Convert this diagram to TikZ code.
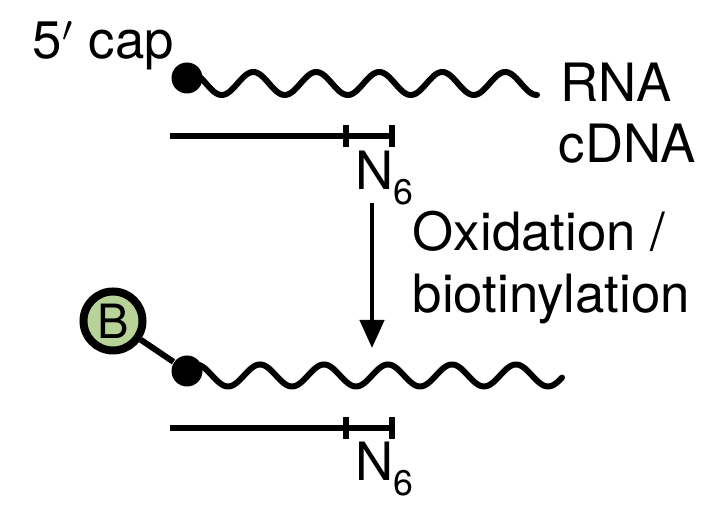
\documentclass[tikz,border=0pt]{standalone}
\usepackage{fontspec}
\setmainfont{TeX Gyre Heros}
\usetikzlibrary{arrows.meta,positioning}
\definecolor{biogreen}{RGB}{184,211,152}

\begin{document}
\begin{tikzpicture}[
    x=0.25pt, y=-0.25pt,
    label/.style={inner sep=0pt, anchor=base west, font=\fontsize{13.2pt}{16pt}\selectfont},
    capdot/.style={circle, fill=black, inner sep=0pt, minimum size=7.75pt},
    biotin/.style={circle, draw=black, line width=2pt, fill=biogreen, inner sep=0pt, minimum size=14.75pt, font=\fontsize{11.8pt}{14pt}\selectfont},
    rna/.style={line width=1.5pt, line cap=round},
    cdna/.style={line width=1.7pt},
    primer/.style={line width=1.5pt},
    link/.style={line width=1.5pt},
    reaction/.style={line width=1.1pt, -{Triangle[width=6pt, length=7pt]}}
]
\useasboundingbox (0,0) rectangle (716,509);

% Top: capped RNA with cDNA
\draw[rna] plot[domain=195:537, samples=200, smooth] (\x, {83.5+11.5*sin((\x-206)/63*360)});
\node[capdot] (cap1) at (187,78) {};
\node[label] (cap) at (32,59) {5$'$ cap};
\node[label] (rna) at (560,102) {RNA};
\node[label] (cdna) at (558,163) {cDNA};

\coordinate (c1a) at (170,136);
\coordinate (c1b) at (392,136);
\draw[cdna] (c1a) -- (c1b);
\draw[primer] (346,125) -- (346,147);
\draw[primer] (c1b) ++(0,-11) -- ++(0,22);
\node[label] (n1) at (355,190) {N\raisebox{-3.75pt}{\fontsize{8.9pt}{10pt}\selectfont 6}};

% Reaction
\coordinate (arrtop) at (372,203);
\coordinate (arrbot) at (372,348);
\draw[reaction] (arrtop) -- (arrbot);
\node[label] (ox) at (412,251) {Oxidation /};
\node[label] (bt) at (412,313) {biotinylation};

% Bottom: biotinylated RNA with cDNA
\draw[rna] plot[domain=195:562, samples=220, smooth] (\x, {375.5+11*sin((\x-212)/64*360)});
\node[capdot] (cap2) at (187,371) {};
\node[biotin] (bio) at (113,321) {B};
\draw[link] (bio) -- (cap2);

\coordinate (c2a) at (170,428);
\coordinate (c2b) at (392,428);
\draw[cdna] (c2a) -- (c2b);
\draw[primer] (346,417) -- (346,439);
\draw[primer] (c2b) ++(0,-11) -- ++(0,22);
\node[label] (n2) at (355,481) {N\raisebox{-3.75pt}{\fontsize{8.9pt}{10pt}\selectfont 6}};

\end{tikzpicture}
\end{document}
